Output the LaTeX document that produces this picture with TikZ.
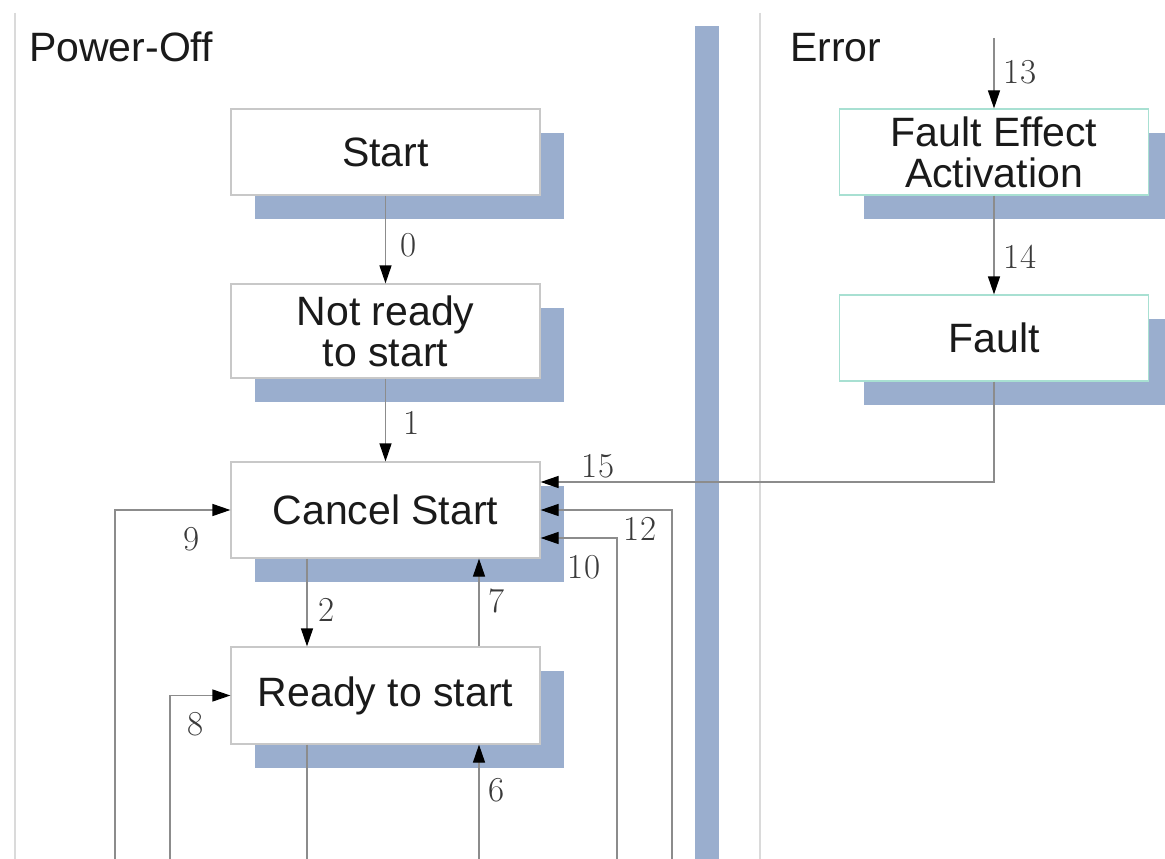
\documentclass[tikz,border=0pt]{standalone}
\usepackage{fontspec}
\setsansfont{Liberation Sans}
\usetikzlibrary{arrows.meta,shadows}
\definecolor{shadowc}{HTML}{9AAECE}
\definecolor{panelc}{HTML}{DADADA}
\definecolor{boxc}{HTML}{C8C8C8}
\definecolor{tealc}{HTML}{A8E0D2}
\definecolor{linec}{HTML}{8C8C8C}
\definecolor{txtc}{HTML}{1A1A1A}
\definecolor{numc}{HTML}{3A3A3A}
\tikzset{
  statebox/.style={draw=boxc, line width=1.2pt, fill=white, minimum width=309pt, inner sep=0pt,
    align=center, font=\sffamily\fontsize{41}{41}\selectfont, text=txtc,
    drop shadow={shadow xshift=24pt, shadow yshift=-24pt, fill=shadowc, opacity=1}},
  errbox/.style={statebox, draw=tealc},
  conn/.style={draw=linec, line width=1.2pt},
  arr/.style={conn, -{Triangle[length=18pt,width=12pt,color=black]}},
  lbl/.style={font=\fontsize{35}{35}\selectfont, text=numc, inner sep=0pt},
  title/.style={font=\sffamily\fontsize{41}{41}\selectfont, text=txtc, inner sep=0pt, anchor=base west}
}
\begin{document}
\begin{tikzpicture}[x=1pt,y=-1pt]
\useasboundingbox (0,0) rectangle (1165,859);
\clip (0,0) rectangle (1165,859);
\fill[white] (0,0) rectangle (1165,859);
% panels
\draw[panelc, line width=2pt] (15,13) -- (15,859);
\draw[panelc, line width=2pt] (760,13) -- (760,859);
\fill[shadowc] (695,26) rectangle (719,859);
\node[title] (tpo) at (29,62) {Power-Off};
\node[title] (terr) at (790,62) {Error};
% states
\node[statebox, minimum height=86pt] (start) at (385.5,152) {Start};
\node[statebox, minimum height=94pt] (notready) at (385.5,331) {Not ready\\ to start};
\node[statebox, minimum height=96pt] (cancel) at (385.5,510) {Cancel Start};
\node[statebox, minimum height=97pt] (ready) at (385.5,695.5) {Ready to start};
\node[errbox, minimum height=86pt] (fea) at (994,152) {Fault Effect\\ Activation};
\node[errbox, minimum height=86pt] (fault) at (994,338) {Fault};
% free ends
\coordinate (b2) at (307,859);
\coordinate (b6) at (479,859);
\coordinate (b8) at (170,859);
\coordinate (b9) at (115,859);
\coordinate (b10) at (617,859);
\coordinate (b12) at (672,859);
\coordinate (t13) at (994,38);
% connectors
\draw[arr] (start.south) -- (notready.north);
\draw[arr] (notready.south) -- (cancel.north);
\draw[arr] ([xshift=-78.5pt]cancel.south) -- ([xshift=-78.5pt]ready.north);
\draw[arr] ([xshift=93.5pt]ready.north) -- ([xshift=93.5pt]cancel.south);
\draw[conn] ([xshift=-78.5pt]ready.south) -- (b2);
\draw[arr] (b6) -- (ready.south -| b6);
\draw[arr] (b8) |- (ready.west);
\draw[arr] (b9) |- (cancel.west);
\draw[arr] (b12) |- (cancel.east);
\draw[arr] (b10) |- ([yshift=-28pt]cancel.east);
\draw[arr] (fault.south) |- ([yshift=28pt]cancel.east);
\draw[arr] (t13) -- (fea.north);
\draw[arr] (fea.south) -- (fault.north);
% labels
\node[lbl] (l0) at (409,245) {0};
\node[lbl] (l1) at (412,423) {1};
\node[lbl] (l2) at (327,610) {2};
\node[lbl] (l7) at (497,601) {7};
\node[lbl] (l6) at (497,790) {6};
\node[lbl] (l8) at (196,724) {8};
\node[lbl] (l9) at (192,539) {9};
\node[lbl] (l10) at (584,567) {10};
\node[lbl] (l12) at (640,529) {12};
\node[lbl] (l15) at (598,466) {15};
\node[lbl] (l13) at (1020,72) {13};
\node[lbl] (l14) at (1020,257) {14};
\end{tikzpicture}
\end{document}
